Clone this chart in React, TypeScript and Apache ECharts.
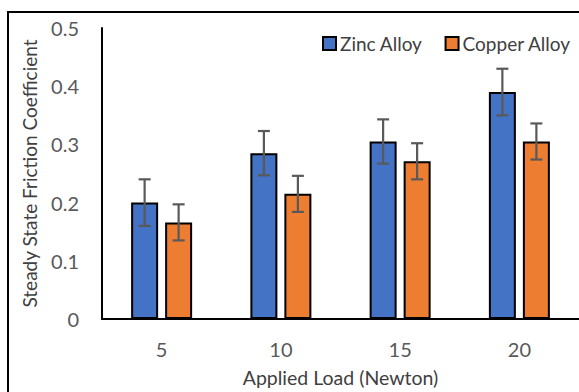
import React, { useEffect, useRef } from "react";
import * as echarts from "echarts";

const categories = ["5", "10", "15", "20"];
const zincValues = [0.2, 0.285, 0.305, 0.39];
const zincErrors = [0.04, 0.038, 0.038, 0.04];
const copperValues = [0.166, 0.215, 0.271, 0.305];
const copperErrors = [0.031, 0.031, 0.031, 0.031];
const seriesNames = ["Zinc Alloy", "Copper Alloy"];

const BAR_W = 27;
const BAR_GAP = 7;
const FONT = "Lato, 'Open Sans', sans-serif";

function errorSeries(values: number[], errors: number[], offset: number) {
  return {
    type: "custom",
    z: 10,
    silent: true,
    data: values.map((v, i) => [i, v, errors[i]]),
    encode: { x: 0, y: 1 },
    renderItem: (_params: any, api: any) => {
      const idx = api.value(0);
      const v = api.value(1);
      const e = api.value(2);
      const c = api.coord([idx, v]);
      const x = c[0] + offset;
      const top = api.coord([idx, v + e])[1];
      const bot = api.coord([idx, v - e])[1];
      const style = { stroke: "#595959", lineWidth: 2.2 };
      const half = 6;
      return {
        type: "group",
        children: [
          { type: "line", shape: { x1: x, y1: top, x2: x, y2: bot }, style },
          { type: "line", shape: { x1: x - half, y1: top, x2: x + half, y2: top }, style },
          { type: "line", shape: { x1: x - half, y1: bot, x2: x + half, y2: bot }, style },
        ],
      };
    },
  };
}

export default function App() {
  const ref = useRef<HTMLDivElement>(null);
  useEffect(() => {
    if (!ref.current) return;
    const chart = echarts.init(ref.current, null, { renderer: "svg" });
    const off = (BAR_W + BAR_GAP) / 2;
    chart.setOption({
      animation: false,
      backgroundColor: "#ffffff",
      textStyle: { fontFamily: FONT },
      graphic: [
        {
          type: "rect",
          shape: { x: 8, y: 12, width: 640, height: 440 },
          style: { fill: "none", stroke: "#000000", lineWidth: 2 },
          z: -10,
        },
      ],
      legend: {
        data: seriesNames,
        left: 317,
        top: 29,
        icon: "rect",
        itemWidth: 13,
        itemHeight: 13,
        itemGap: 22,
        textStyle: { fontFamily: FONT, fontSize: 19, color: "#404040", padding: [0, 0, 0, -1] },
      },
      grid: { left: 102, top: 28, width: 480, height: 293 },
      xAxis: {
        type: "category",
        data: categories,
        axisLine: { show: true, lineStyle: { color: "#000000", width: 2 } },
        axisTick: { show: false },
        axisLabel: { color: "#595959", fontSize: 20, margin: 20, fontFamily: FONT },
        name: "Applied Load (Newton)",
        nameLocation: "middle",
        nameGap: 48,
        nameTextStyle: { color: "#404040", fontSize: 19.5, fontFamily: FONT },
      },
      yAxis: {
        type: "value",
        min: 0,
        max: 0.5,
        interval: 0.1,
        splitLine: { show: false },
        axisLine: { show: true, lineStyle: { color: "#000000", width: 2 } },
        axisTick: { show: false },
        axisLabel: {
          color: "#595959",
          fontSize: 20,
          margin: 23,
          fontFamily: FONT,
          formatter: (v: number) => (v === 0 ? "0" : v.toFixed(1)),
        },
        name: "Steady State Friction Coefficient",
        nameLocation: "middle",
        nameGap: 63,
        nameTextStyle: { color: "#404040", fontSize: 19, fontFamily: FONT },
      },
      series: [
        {
          name: seriesNames[0],
          type: "bar",
          data: zincValues,
          barWidth: BAR_W,
          barGap: (BAR_GAP / BAR_W) * 100 + "%",
          itemStyle: { color: "#4472C4", borderColor: "#000000", borderWidth: 2 },
        },
        {
          name: seriesNames[1],
          type: "bar",
          data: copperValues,
          barWidth: BAR_W,
          barGap: (BAR_GAP / BAR_W) * 100 + "%",
          itemStyle: { color: "#ED7D31", borderColor: "#000000", borderWidth: 2 },
        },
        errorSeries(zincValues, zincErrors, -off),
        errorSeries(copperValues, copperErrors, off),
      ],
    });
    return () => chart.dispose();
  }, []);
  return (
    <div
      ref={ref}
      style={{ position: "absolute", left: 0, top: 0, width: 579, height: 392, overflow: "hidden" }}
    />
  );
}
